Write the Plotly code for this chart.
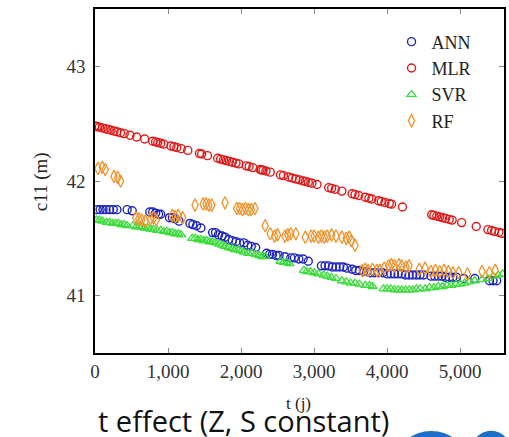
import plotly.graph_objects as go

# ---- data ----
mlr_t = [0, 30, 60, 100, 140, 180, 220, 260, 300, 350, 400, 480, 570, 680, 790, 830, 860, 900, 940,
         1040, 1080, 1120, 1180, 1270, 1430, 1460, 1540, 1680, 1720, 1760, 1800, 1840, 1880, 1930, 1970,
         2070, 2110, 2160, 2260, 2280, 2300, 2340, 2400, 2540, 2580, 2650, 2700, 2750, 2800, 2850, 2880,
         2920, 2970, 3040, 3200, 3240, 3290, 3380, 3520, 3560, 3610, 3700, 3750, 3790, 3880, 3920, 3970,
         4030, 4060, 4210, 4610, 4640, 4680, 4720, 4760, 4800, 4850, 4890, 5020, 5220, 5380, 5430, 5470,
         5530, 5570]
mlr_c = [42.48, 42.475, 42.47, 42.463, 42.456, 42.45, 42.443, 42.436, 42.43, 42.421, 42.413, 42.399,
         42.384, 42.366, 42.347, 42.341, 42.336, 42.329, 42.322, 42.305, 42.299, 42.292, 42.282, 42.267,
         42.24, 42.235, 42.221, 42.198, 42.191, 42.184, 42.178, 42.171, 42.164, 42.156, 42.149, 42.132,
         42.126, 42.117, 42.10, 42.097, 42.094, 42.087, 42.077, 42.053, 42.047, 42.035, 42.026, 42.018,
         42.01, 42.001, 41.996, 41.989, 41.981, 41.969, 41.942, 41.936, 41.927, 41.912, 41.889, 41.882,
         41.874, 41.858, 41.85, 41.843, 41.828, 41.821, 41.813, 41.803, 41.798, 41.773, 41.706, 41.70,
         41.694, 41.687, 41.68, 41.674, 41.665, 41.659, 41.637, 41.603, 41.576, 41.568, 41.561, 41.551,
         41.544]

ann_t = [30, 70, 110, 150, 200, 250, 300, 440, 510, 750, 790, 830, 870, 900, 1020, 1060, 1100, 1150,
         1300, 1340, 1390, 1450, 1610, 1650, 1690, 1740, 1780, 1830, 1880, 1930, 1980, 2040, 2090, 2140,
         2200, 2350, 2390, 2430, 2480, 2520, 2600, 2680, 2730, 2790, 2850, 2920, 3100, 3150, 3200, 3250,
         3300, 3350, 3400, 3450, 3520, 3570, 3620, 3680, 3720, 3770, 3830, 3880, 3940, 4000, 4050, 4100,
         4150, 4200, 4250, 4300, 4350, 4400, 4450, 4500, 4600, 4650, 4700, 4750, 4800, 4850, 4900, 4950,
         5050, 5200, 5400, 5450, 5500]
ann_c = [41.75, 41.75, 41.75, 41.75, 41.75, 41.75, 41.75, 41.75, 41.74, 41.73, 41.73, 41.72, 41.71,
         41.71, 41.68, 41.68, 41.67, 41.65, 41.63, 41.62, 41.61, 41.59, 41.55, 41.55, 41.53, 41.52, 41.51,
         41.49, 41.48, 41.47, 41.46, 41.46, 41.44, 41.43, 41.42, 41.37, 41.36, 41.36, 41.35, 41.35, 41.34,
         41.33, 41.33, 41.32, 41.32, 41.30, 41.26, 41.26, 41.26, 41.25, 41.25, 41.25, 41.25, 41.24, 41.23,
         41.22, 41.22, 41.21, 41.21, 41.20, 41.20, 41.20, 41.20, 41.19, 41.19, 41.19, 41.19, 41.19, 41.18,
         41.18, 41.18, 41.18, 41.18, 41.18, 41.17, 41.17, 41.17, 41.17, 41.16, 41.16, 41.16, 41.16, 41.15,
         41.15, 41.13, 41.13, 41.13]

svr_t = [20, 60, 100, 160, 200, 240, 280, 320, 360, 400, 440, 520, 560, 600, 640, 680, 720, 760, 800,
         850, 900, 940, 980, 1020, 1060, 1100, 1140, 1180, 1330, 1370, 1410, 1450, 1490, 1530, 1570, 1610,
         1650, 1700, 1740, 1780, 1830, 1880, 1920, 1960, 2000, 2040, 2100, 2150, 2200, 2250, 2290, 2330,
         2540, 2580, 2620, 2660, 2860, 2900, 2950, 3000, 3060, 3130, 3180, 3240, 3300, 3380, 3440, 3500,
         3560, 3620, 3700, 3760, 3800, 3950, 4000, 4050, 4100, 4150, 4200, 4250, 4300, 4350, 4400, 4450,
         4520, 4580, 4640, 4700, 4760, 4820, 4880, 4940, 5000, 5060, 5120, 5200, 5300, 5380, 5450, 5520,
         5580]
svr_c = [41.66, 41.66, 41.65, 41.64, 41.64, 41.63, 41.63, 41.63, 41.62, 41.62, 41.61, 41.61, 41.60,
         41.60, 41.60, 41.59, 41.59, 41.58, 41.58, 41.57, 41.57, 41.56, 41.56, 41.55, 41.55, 41.54, 41.54,
         41.53, 41.50, 41.50, 41.49, 41.49, 41.48, 41.48, 41.47, 41.47, 41.46, 41.45, 41.44, 41.43, 41.42,
         41.41, 41.40, 41.40, 41.39, 41.38, 41.37, 41.37, 41.36, 41.35, 41.34, 41.34, 41.30, 41.29, 41.29,
         41.28, 41.22, 41.21, 41.21, 41.20, 41.19, 41.18, 41.17, 41.16, 41.15, 41.13, 41.12, 41.11, 41.11,
         41.10, 41.09, 41.09, 41.08, 41.06, 41.06, 41.06, 41.05, 41.05, 41.05, 41.05, 41.05, 41.05, 41.06,
         41.06, 41.06, 41.07, 41.07, 41.08, 41.08, 41.09, 41.09, 41.10, 41.10, 41.11, 41.12, 41.13, 41.14,
         41.15, 41.17, 41.18, 41.19]

rf_t = [40, 100, 140, 260, 310, 350, 560, 600, 640, 690, 760, 800, 840, 1060, 1100, 1140, 1200, 1370,
        1480, 1520, 1560, 1600, 1780, 1940, 1980, 2020, 2060, 2100, 2140, 2190, 2330, 2400, 2460, 2500,
        2600, 2640, 2680, 2750, 2880, 2960, 3000, 3060, 3100, 3140, 3180, 3240, 3300, 3380, 3440, 3480,
        3510, 3560, 3660, 3700, 3740, 3800, 3860, 3900, 3960, 4020, 4060, 4100, 4160, 4200, 4260, 4300,
        4440, 4520, 4600, 4660, 4720, 4780, 4840, 4900, 4980, 5100, 5300, 5400, 5480]
rf_c = [42.11, 42.12, 42.10, 42.04, 42.03, 42.00, 41.68, 41.67, 41.66, 41.65, 41.67, 41.68, 41.66,
        41.70, 41.69, 41.70, 41.68, 41.79, 41.80, 41.80, 41.79, 41.79, 41.81, 41.76, 41.76, 41.75, 41.76,
        41.75, 41.75, 41.76, 41.61, 41.54, 41.52, 41.53, 41.52, 41.53, 41.54, 41.54, 41.51, 41.52, 41.52,
        41.51, 41.52, 41.51, 41.52, 41.53, 41.52, 41.51, 41.50, 41.51, 41.48, 41.44, 41.22, 41.23, 41.22,
        41.23, 41.22, 41.22, 41.24, 41.26, 41.27, 41.26, 41.27, 41.26, 41.25, 41.26, 41.23, 41.24, 41.21,
        41.22, 41.21, 41.22, 41.21, 41.20, 41.20, 41.19, 41.21, 41.20, 41.22]

x_ticks = [0, 1000, 2000, 3000, 4000, 5000]
y_ticks = [41, 42, 43]

SERIF = "Liberation Serif, DejaVu Serif, Times New Roman, serif"

fig = go.Figure()
fig.add_trace(go.Scatter(x=ann_t, y=ann_c, mode="markers", name="ANN",
                         marker=dict(symbol="circle-open", size=8, color="#1f24c0",
                                     line=dict(width=1.4, color="#1f24c0"))))
fig.add_trace(go.Scatter(x=mlr_t, y=mlr_c, mode="markers", name="MLR",
                         marker=dict(symbol="circle-open", size=8, color="#e01818",
                                     line=dict(width=1.4, color="#e01818"))))
fig.add_trace(go.Scatter(x=svr_t, y=svr_c, mode="markers", name="SVR",
                         marker=dict(symbol="triangle-up-open", size=8, color="#3cdc3c",
                                     line=dict(width=1.3, color="#3cdc3c"))))
fig.add_trace(go.Scatter(x=rf_t, y=rf_c, mode="markers", name="RF",
                         marker=dict(symbol="diamond-tall-open", size=9, color="#f0922a",
                                     line=dict(width=1.3, color="#f0922a"))))

fig.update_layout(
    width=509, height=437,
    margin=dict(l=95, r=3, t=9, b=84),
    paper_bgcolor="white", plot_bgcolor="white",
    showlegend=True,
    legend=dict(x=0.725, y=0.958, xanchor="left", yanchor="top",
                bgcolor="rgba(255,255,255,0)", borderwidth=0,
                font=dict(family=SERIF, size=18, color="#222"),
                itemwidth=30, tracegroupgap=0),
    font=dict(family=SERIF, color="#222"),
)
fig.update_xaxes(range=[0, 5600], tickvals=x_ticks, tickformat=",d",
                 ticks="inside", ticklen=5, tickcolor="#888", mirror="allticks",
                 showline=True, linecolor="black", linewidth=1.5, showgrid=False, zeroline=False,
                 tickfont=dict(family=SERIF, size=19, color="#333"))
fig.update_yaxes(range=[40.5, 43.5], tickvals=y_ticks,
                 ticks="inside", ticklen=5, tickcolor="#888", mirror="allticks",
                 showline=True, linecolor="black", linewidth=1.5, showgrid=False, zeroline=False,
                 tickfont=dict(family=SERIF, size=19, color="#333"), ticklabelstandoff=4)

fig.add_annotation(text="c11 (m)", xref="paper", yref="paper", x=(41 - 95) / 411, y=(353 - 182) / 344,
                   xanchor="center", yanchor="middle",
                   textangle=-90, showarrow=False, font=dict(family=SERIF, size=19, color="#222"))
fig.add_annotation(text="t (j)", xref="paper", yref="paper", x=(299 - 95) / 411, y=(353 - 403) / 344,
                   xanchor="center", yanchor="middle",
                   showarrow=False, font=dict(family=SERIF, size=17, color="#222"))
fig.add_annotation(text="t effect (Z, S constant)", xref="paper", yref="paper",
                   x=(244 - 95) / 411, y=(353 - 421) / 344, xanchor="center", yanchor="middle",
                   showarrow=False, font=dict(family="Open Sans", size=29, color="#111"))

fig.add_shape(type="circle", xref="paper", yref="paper", x0=0.737, x1=0.9075, y0=-0.2267, y1=-0.40,
              fillcolor="#1a6fc8", line=dict(width=0), layer="above")
fig.add_shape(type="circle", xref="paper", yref="paper", x0=0.917, x1=1.02, y0=-0.226, y1=-0.36,
              fillcolor="#1a6fc8", line=dict(width=0), layer="above")

fig.write_html("out.html")
